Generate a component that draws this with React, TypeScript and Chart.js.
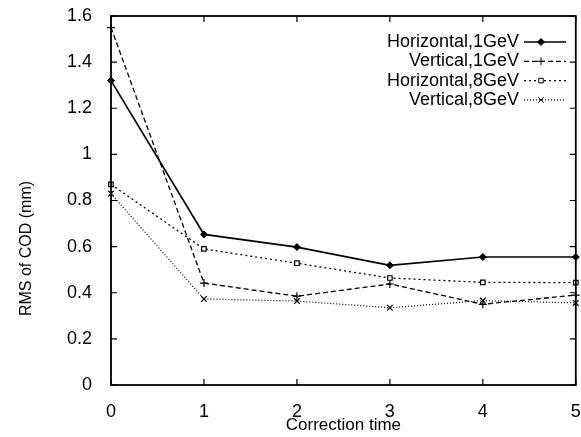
import React, { useEffect, useRef } from "react";
import { Chart, registerables } from "chart.js";
import { drawPoint } from "chart.js/helpers";

Chart.register(...registerables);

const correctionTimes = [0, 1, 2, 3, 4, 5];
const horizontal1GeV = [1.32, 0.653, 0.598, 0.519, 0.555, 0.555];
const vertical1GeV = [1.55, 0.442, 0.385, 0.438, 0.35, 0.39];
const horizontal8GeV = [0.87, 0.59, 0.528, 0.464, 0.445, 0.444];
const vertical8GeV = [0.83, 0.373, 0.364, 0.335, 0.366, 0.356];

const seriesLabels = ["Horizontal,1GeV", "Vertical,1GeV", "Horizontal,8GeV", "Vertical,8GeV"];
const xTitle = "Correction time";
const yTitle = "RMS of COD (mm)";

const FONT = '"Liberation Sans", Arial, Helvetica, sans-serif';

const toPoints = (vals: number[]) => correctionTimes.map((x, i) => ({ x, y: vals[i] }));

const frameTicksPlugin = {
  id: "frameTicks",
  afterDraw(chart: any) {
    const { ctx, chartArea: a, scales } = chart;
    ctx.save();
    ctx.strokeStyle = "#000";
    ctx.lineWidth = 1.8;
    ctx.setLineDash([]);
    ctx.strokeRect(a.left, a.top, a.right - a.left, a.bottom - a.top);
    const len = 6;
    ctx.lineWidth = 1.2;
    ctx.beginPath();
    for (const t of scales.x.ticks) {
      const px = scales.x.getPixelForValue(t.value);
      ctx.moveTo(px, a.bottom);
      ctx.lineTo(px, a.bottom - len);
      ctx.moveTo(px, a.top);
      ctx.lineTo(px, a.top + len);
    }
    for (const t of scales.y.ticks) {
      const py = scales.y.getPixelForValue(t.value);
      ctx.moveTo(a.left, py);
      ctx.lineTo(a.left + len, py);
      ctx.moveTo(a.right, py);
      ctx.lineTo(a.right - len, py);
    }
    ctx.stroke();

    // y axis title
    ctx.fillStyle = "#000";
    ctx.font = `16px ${FONT}`;
    ctx.textAlign = "center";
    ctx.textBaseline = "middle";
    ctx.translate(27, (a.top + a.bottom) / 2 + 48);
    ctx.rotate(-Math.PI / 2);
    ctx.fillText(yTitle, 0, 0);
    ctx.restore();
  },
};

const rightLegendPlugin = {
  id: "rightLegend",
  afterDatasetsDraw(chart: any) {
    const { ctx, chartArea: a } = chart;
    ctx.save();
    chart.data.datasets.forEach((ds: any, i: number) => {
      const y = a.top + 26 + i * 19.3;
      ctx.fillStyle = "#000";
      ctx.font = `18px ${FONT}`;
      ctx.textAlign = "right";
      ctx.textBaseline = "middle";
      ctx.fillText(ds.label, 519, y);
      ctx.strokeStyle = "#000";
      ctx.lineWidth = ds.borderWidth;
      ctx.setLineDash(ds.borderDash || []);
      ctx.beginPath();
      ctx.moveTo(524, y);
      ctx.lineTo(566, y);
      ctx.stroke();
      ctx.setLineDash([]);
      ctx.fillStyle = ds.pointBackgroundColor;
      ctx.strokeStyle = "#000";
      ctx.lineWidth = 1;
      drawPoint(ctx, { pointStyle: ds.pointStyle, radius: ds.pointRadius, borderWidth: 1, rotation: 0 }, 541, y);
    });
    ctx.restore();
  },
};

export default function App() {
  const ref = useRef<HTMLCanvasElement | null>(null);
  useEffect(() => {
    document.body.style.margin = "0";
    const canvas = ref.current;
    if (!canvas) return;
    const chart = new Chart(canvas, {
      type: "line",
      data: {
        datasets: [
          {
            label: seriesLabels[0],
            data: toPoints(horizontal1GeV),
            borderColor: "#000",
            borderWidth: 1.7,
            pointStyle: "rectRot",
            pointRadius: 3.5,
            pointBackgroundColor: "#000",
            pointBorderColor: "#000",
            pointBorderWidth: 1,
          },
          {
            label: seriesLabels[1],
            data: toPoints(vertical1GeV),
            borderColor: "#000",
            borderWidth: 1.3,
            borderDash: [5, 3],
            pointStyle: "cross",
            pointRadius: 4,
            pointBackgroundColor: "#000",
            pointBorderColor: "#000",
            pointBorderWidth: 1.2,
          },
          {
            label: seriesLabels[2],
            data: toPoints(horizontal8GeV),
            borderColor: "#000",
            borderWidth: 1.3,
            borderDash: [2, 3],
            pointStyle: "rect",
            pointRadius: 3.2,
            pointBackgroundColor: "#fff",
            pointBorderColor: "#000",
            pointBorderWidth: 1.2,
          },
          {
            label: seriesLabels[3],
            data: toPoints(vertical8GeV),
            borderColor: "#000",
            borderWidth: 1.2,
            borderDash: [1, 2],
            pointStyle: "crossRot",
            pointRadius: 4,
            pointBackgroundColor: "#000",
            pointBorderColor: "#000",
            pointBorderWidth: 1.2,
          },
        ],
      },
      options: {
        responsive: false,
        animation: false,
        devicePixelRatio: 1,
        clip: false,
        layout: { padding: { top: 16, right: 3, left: 0, bottom: 0 } },
        plugins: {
          legend: { display: false },
          tooltip: { enabled: false },
        },
        scales: {
          x: {
            type: "linear",
            min: 0,
            max: 5,
            grid: { display: false },
            border: { display: false },
            ticks: {
              stepSize: 1,
              color: "#000",
              padding: 8,
              font: { family: FONT, size: 18 },
            },
            title: {
              display: true,
              text: xTitle,
              color: "#000",
              font: { family: FONT, size: 17, lineHeight: 1.2 },
              padding: { top: 0, bottom: 1 },
            },
            afterFit: (s: any) => {
              s.height = 52;
              s.paddingLeft = 0;
              s.paddingRight = 0;
            },
          },
          y: {
            min: 0,
            max: 1.6,
            grid: { display: false },
            border: { display: false },
            ticks: {
              stepSize: 0.2,
              color: "#000",
              padding: 11,
              font: { family: FONT, size: 18 },
              callback: (v: any) => String(Math.round(Number(v) * 10) / 10),
            },
            afterFit: (s: any) => {
              s.width = 111;
              s.paddingTop = 0;
              s.paddingBottom = 0;
            },
          },
        },
      },
      plugins: [frameTicksPlugin, rightLegendPlugin],
    } as any);
    return () => chart.destroy();
  }, []);
  return (
    <div style={{ width: 581, height: 437, background: "#fff" }}>
      <canvas ref={ref} width={581} height={437} />
    </div>
  );
}
